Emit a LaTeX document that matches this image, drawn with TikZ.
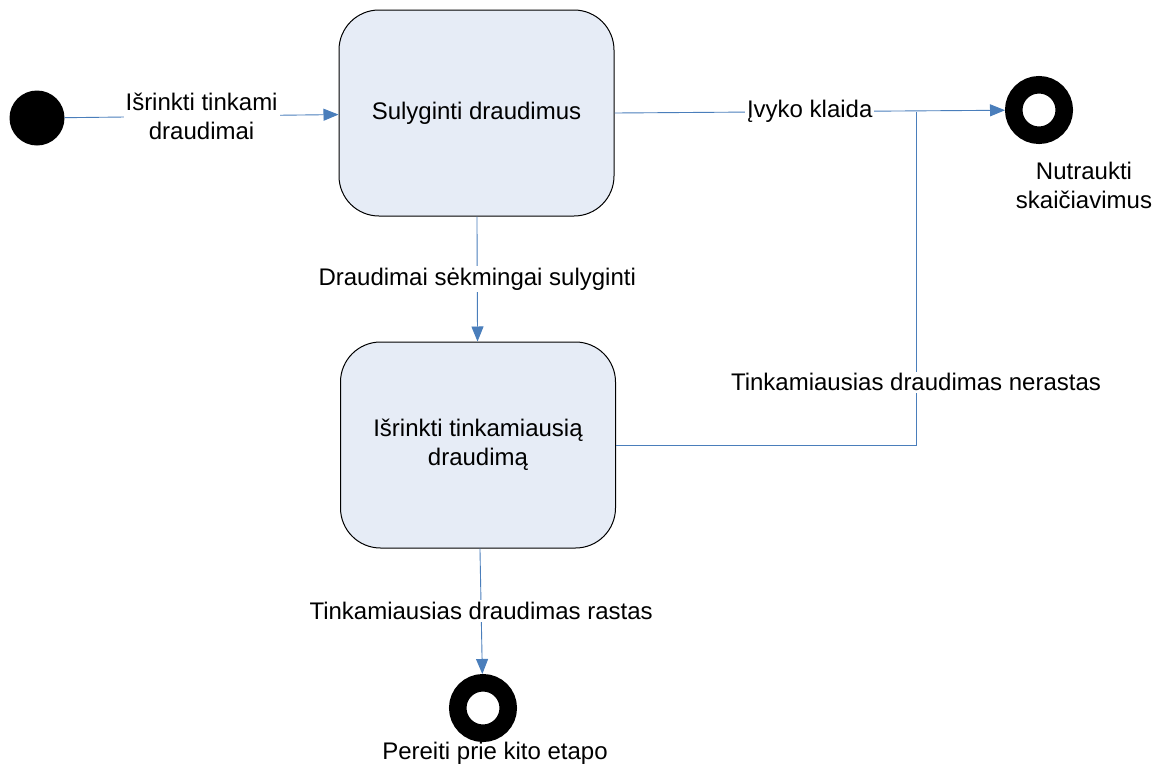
\documentclass[tikz,border=0pt]{standalone}
\usepackage{fontspec}
\setmainfont{Liberation Sans}
\usetikzlibrary{arrows.meta}
\definecolor{statefill}{RGB}{230,236,246}
\definecolor{flowblue}{RGB}{74,126,187}
\begin{document}
\begin{tikzpicture}[x=1pt,y=-1pt,
  every node/.style={font=\fontsize{24}{29}\selectfont},
  statebox/.style={draw=black, line width=1pt, fill=statefill, rounded corners=40pt,
    minimum width=275pt, minimum height=206pt, align=center, inner sep=0pt},
  initial/.style={circle, fill=black, minimum size=55pt, inner sep=0pt},
  final/.style={circle, draw=black, fill=white, line width=17.5pt, minimum size=50.5pt, inner sep=0pt},
  flow/.style={draw=flowblue, line width=0.9pt},
  tip/.style={-{Triangle[length=15pt,width=12pt]}},
  lbl/.style={fill=white, inner sep=2pt, align=center, text=black}]
\useasboundingbox (0,0) rectangle (1163,772);

% states
\node[initial] (start) at (37,118) {};
\node[statebox] (compare) at (476.5,113) {Sulyginti draudimus};
\node[statebox] (choose) at (478,445) {Išrinkti tinkamiausią\\draudimą};
\node[final] (abort) at (1039,110) {};
\node[final] (next) at (483,708) {};
\coordinate (join) at (916,112);

% final-state names
\node[align=center] at (1084,185) {Nutraukti\\skaičiavimus};
\node at (495,753) {Pereiti prie kito etapo};

% transitions
\draw[flow,tip] (start) -- node[lbl] {Išrinkti tinkami\\draudimai} (compare);
\draw[flow,tip] (compare.east) -- node[lbl] {Įvyko klaida} (abort);
\draw[flow] (choose.east) -| node[lbl,pos=0.594] {Tinkamiausias draudimas nerastas} (join);
\draw[flow,tip] (compare) -- node[lbl] {Draudimai sėkmingai sulyginti} (choose);
\draw[flow,tip] (choose) -- node[lbl] {Tinkamiausias draudimas rastas} (next);
\end{tikzpicture}
\end{document}
